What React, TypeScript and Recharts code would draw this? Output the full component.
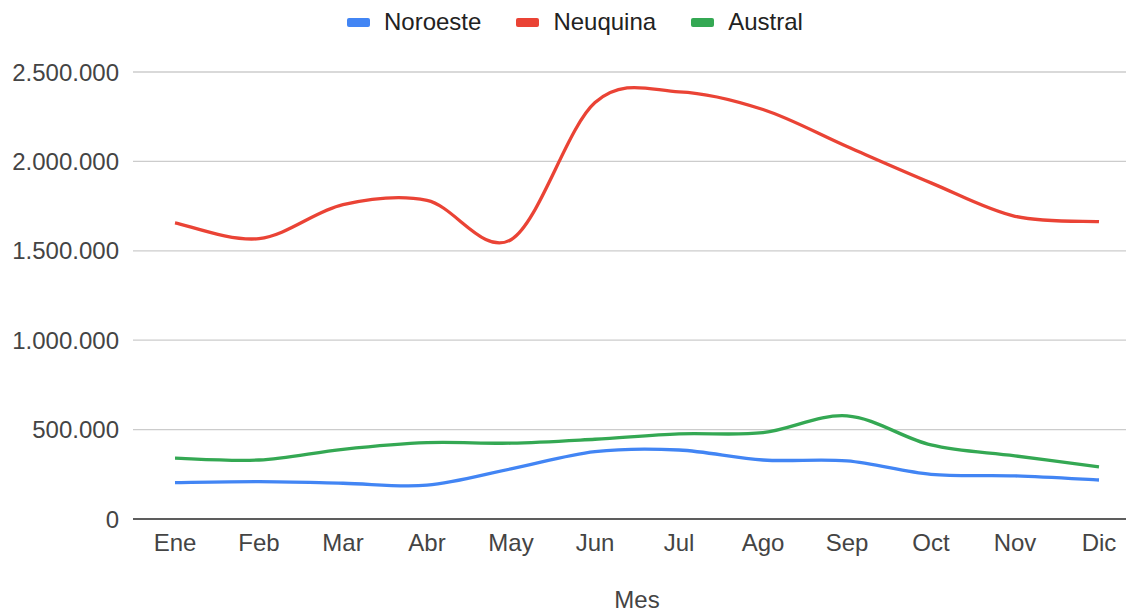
import { CartesianGrid, Label, Line, LineChart, XAxis, YAxis } from "recharts";

const months = ["Ene", "Feb", "Mar", "Abr", "May", "Jun", "Jul", "Ago", "Sep", "Oct", "Nov", "Dic"];
const noroeste = [203000, 209000, 200000, 189000, 280000, 377000, 386000, 330000, 325000, 250000, 241000, 218000];
const neuquina = [1656000, 1568000, 1758000, 1782000, 1562000, 2329000, 2389000, 2290000, 2083000, 1880000, 1693000, 1663000];
const austral = [340000, 330000, 390000, 427000, 424000, 446000, 476000, 483000, 577000, 414000, 353000, 291000];
const yTicks = [0, 500000, 1000000, 1500000, 2000000, 2500000];

const SERIES = [
  { key: "Noroeste", color: "#4285f4" },
  { key: "Neuquina", color: "#ea4335" },
  { key: "Austral", color: "#34a853" },
];

const data = months.map((mes, i) => ({
  mes,
  Noroeste: noroeste[i],
  Neuquina: neuquina[i],
  Austral: austral[i],
}));

const FONT = '"Liberation Sans", Arial, sans-serif';

// catmull-rom style smoothing, close to the google charts "function" curve
function smoothCurve(context: any) {
  let pts: number[][] = [];
  return {
    areaStart() {},
    areaEnd() {},
    lineStart() {
      pts = [];
    },
    point(x: number, y: number) {
      pts.push([+x, +y]);
    },
    lineEnd() {
      if (!pts.length) return;
      const k = 1 / 6;
      context.moveTo(pts[0][0], pts[0][1]);
      for (let i = 0; i < pts.length - 1; i++) {
        const p0 = pts[i - 1] ?? pts[i];
        const p1 = pts[i];
        const p2 = pts[i + 1];
        const p3 = pts[i + 2] ?? p2;
        context.bezierCurveTo(
          p1[0] + k * (p2[0] - p0[0]),
          p1[1] + k * (p2[1] - p0[1]),
          p2[0] - k * (p3[0] - p1[0]),
          p2[1] - k * (p3[1] - p1[1]),
          p2[0],
          p2[1],
        );
      }
    },
  };
}

const fmt = (v: number) => String(v).replace(/\B(?=(\d{3})+(?!\d))/g, ".");

export default function App() {
  return (
    <div
      style={{
        position: "fixed",
        left: 0,
        top: 0,
        width: 1126,
        height: 612,
        overflow: "hidden",
        background: "#fff",
        fontFamily: FONT,
      }}
    >
      <div style={{ position: "absolute", left: 347, top: 8, display: "flex", alignItems: "center", gap: 35 }}>
        {SERIES.map((s) => (
          <span key={s.key} style={{ display: "flex", alignItems: "center", gap: 14, fontSize: 24, color: "#222" }}>
            <span style={{ display: "inline-block", width: 23, height: 9, borderRadius: 2, background: s.color }} />
            {s.key}
          </span>
        ))}
      </div>
      <LineChart width={1160} height={612} data={data} margin={{ top: 72, right: 19, bottom: 0, left: 0 }}>
        <CartesianGrid vertical={false} stroke="#cccccc" strokeWidth={1.3} />
        <XAxis
          dataKey="mes"
          height={93}
          padding={{ left: 42, right: 42 }}
          tickLine={false}
          tickMargin={9}
          axisLine={{ stroke: "#333", strokeWidth: 1.5 }}
          tick={{ fill: "#444", fontSize: 24, fontFamily: FONT }}
          interval={0}
        >
          <Label value="Mes" position="insideBottom" offset={4} fill="#444" fontSize={24} fontFamily={FONT} />
        </XAxis>
        <YAxis
          width={133}
          domain={[0, 2500000]}
          ticks={yTicks}
          tickFormatter={fmt}
          tickLine={false}
          axisLine={false}
          tickMargin={8}
          tick={{ fill: "#444", fontSize: 24, fontFamily: FONT }}
        />
        {SERIES.map((s) => (
          <Line
            key={s.key}
            dataKey={s.key}
            type={smoothCurve as any}
            stroke={s.color}
            strokeWidth={3.3}
            dot={false}
            activeDot={false}
            isAnimationActive={false}
          />
        ))}
      </LineChart>
    </div>
  );
}
